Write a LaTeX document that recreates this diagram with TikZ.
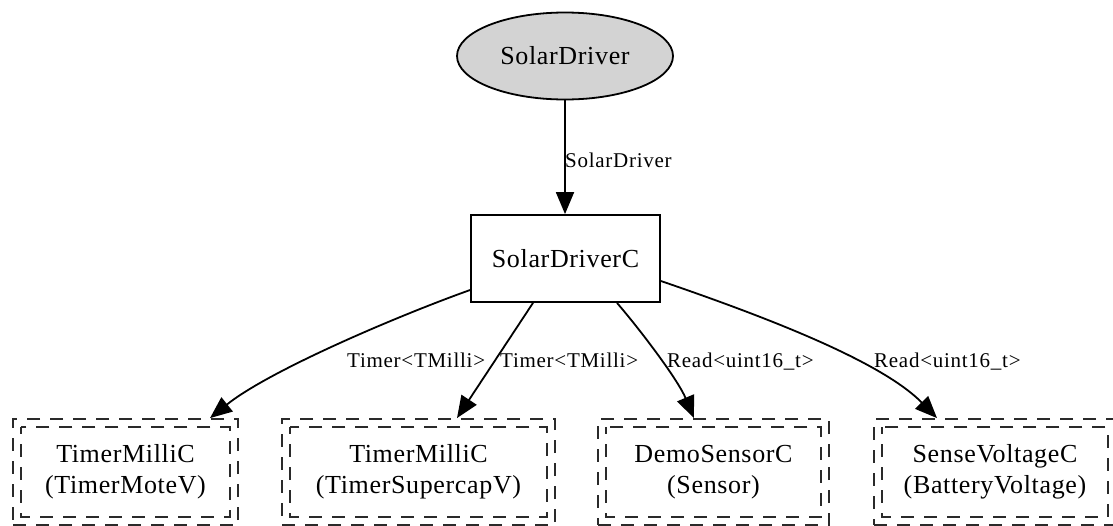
\documentclass[tikz,border=0pt]{standalone}
\usepackage{fontspec}
\setmainfont{Liberation Serif}
\newfontfamily\gvfont[LetterSpace=2.5]{Liberation Serif}
\newfontfamily\gvlblfont[LetterSpace=3.5]{Liberation Serif}
\usetikzlibrary{shapes.geometric,arrows.meta,calc}
\definecolor{gvgray}{HTML}{D3D3D3}
\definecolor{dashgray}{HTML}{2A2A2A}
\begin{document}
\begin{tikzpicture}[x=1pt,y=-1pt,
  gvnode/.style={font=\gvfont\fontsize{26}{31}\selectfont, inner sep=0pt, line width=1.8pt, align=center},
  sdell/.style={gvnode, ellipse, draw, fill=gvgray, minimum width=216pt, minimum height=87pt},
  compbox/.style={gvnode, rectangle, draw, minimum width=189pt, minimum height=87pt},
  genbox/.style={gvnode, rectangle, draw=dashgray, dash pattern=on 13pt off 10pt, minimum height=106pt},
  innerbox/.style={draw=dashgray, line width=1.8pt, dash pattern=on 13pt off 10pt, dash phase=6pt},
  edge/.style={line width=1.8pt, -{Triangle[length=22pt,width=18pt]}},
  lbl/.style={font=\gvlblfont\fontsize{21}{25}\selectfont, inner sep=0pt, anchor=base west}
]
\useasboundingbox (0,0) rectangle (1113,525);

\node[sdell] (sd) at (565,56) {SolarDriver};
\node[compbox] (sdc) at (565.5,258.5) {SolarDriverC};

\node[genbox, minimum width=225pt] (b1) at (125.5,472) {TimerMilliC\\(TimerMoteV)};
\node[genbox, minimum width=273pt] (b2) at (418.5,472) {TimerMilliC\\(TimerSupercapV)};
\node[genbox, minimum width=231pt] (b3) at (713.5,472) {DemoSensorC\\(Sensor)};
\node[genbox, minimum width=242pt] (b4) at (995,472) {SenseVoltageC\\(BatteryVoltage)};

\foreach \b in {b1,b2,b3,b4}{
  \draw[innerbox] ([shift={(9pt,-9pt)}]\b.north west) rectangle ([shift={(-9pt,9pt)}]\b.south east);
}

\draw[edge] (sd.south) -- (sd.south |- sdc.north);
\draw[edge] ($(sdc.west)+(0,31.5)$) .. controls (400,315) and (270,370) .. ($(b1.north)+(84.5,0)$);
\draw[edge] ($(sdc.south)+(-32.5,0)$) -- ($(b2.north)+(38.5,0)$);
\draw[edge] ($(sdc.south)+(51.5,0)$) .. controls (642,332) and (678,380) .. ($(b3.north)+(-19.5,0)$);
\draw[edge] ($(sdc.east)+(0,22.5)$) .. controls (760,315) and (880,360) .. ($(b4.north)+(-58,0)$);

\node[lbl] (l0) at (565,167) {SolarDriver};
\node[lbl] (l1) at (347,367) {Timer<TMilli>};
\node[lbl] (l2) at (500,367) {Timer<TMilli>};
\node[lbl] (l3) at (667,367) {Read<uint16\_t>};
\node[lbl] (l4) at (874,367) {Read<uint16\_t>};
\end{tikzpicture}
\end{document}
